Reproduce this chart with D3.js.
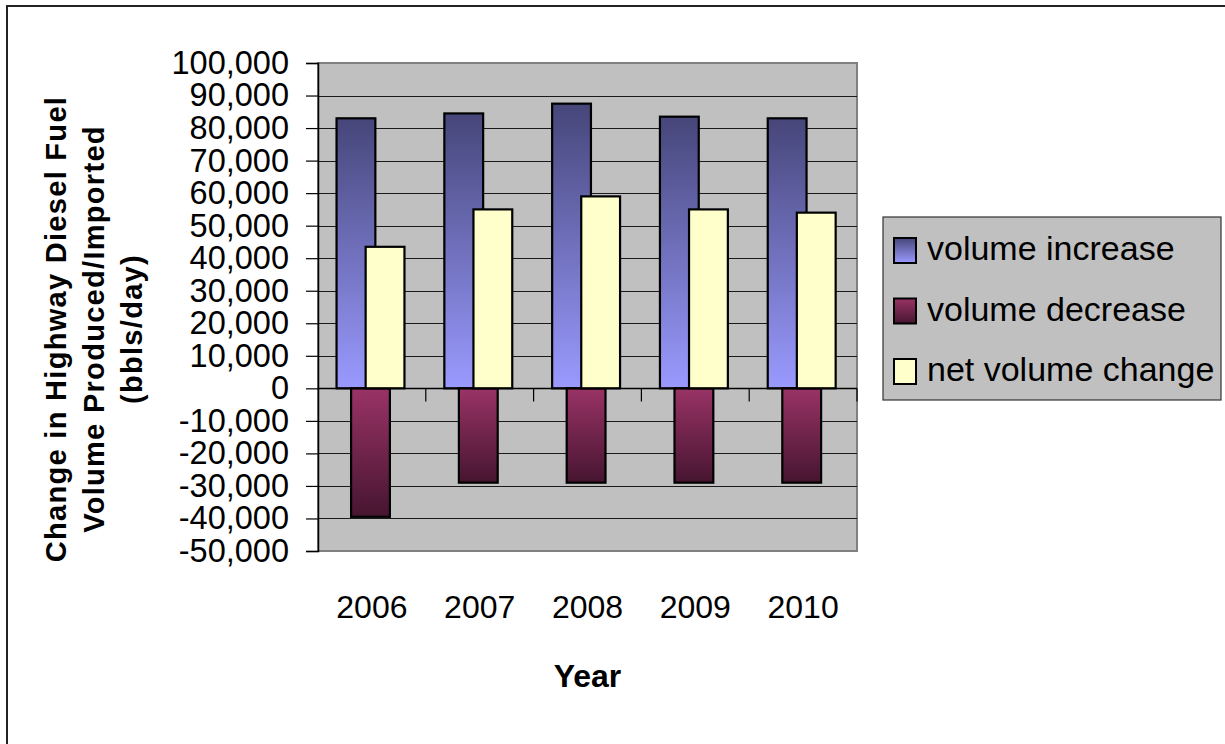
<!DOCTYPE html>
<html>
<head>
<meta charset="utf-8">
<script src="https://cdn.jsdelivr.net/npm/d3@7"></script>
<style>
  html, body { margin: 0; padding: 0; background: #ffffff; }
  svg { display: block; }
  text { font-family: "Liberation Sans", Arial, sans-serif; fill: #000; }
</style>
</head>
<body>
<svg id="chart" width="1225" height="744"></svg>
<script>
// ---- Data ----
const categories = ["2006", "2007", "2008", "2009", "2010"];
const seriesNames = ["volume increase", "volume decrease", "net volume change"];
const volumeIncrease = [83000, 84500, 87500, 83500, 83000];
const volumeDecrease = [-39500, -29000, -29000, -29000, -29000];
const netVolumeChange = [43500, 55000, 59000, 55000, 54000];
const yTickValues = [-50000, -40000, -30000, -20000, -10000, 0, 10000, 20000, 30000, 40000, 50000, 60000, 70000, 80000, 90000, 100000];
const yTitleLines = ["Change in Highway Diesel Fuel", "Volume Produced/Imported", "(bbls/day)"];
const xTitle = "Year";

// ---- Layout ----
const svg = d3.select("#chart");
const plot = { left: 318, right: 857, top: 63, bottom: 551 };

const x = d3.scaleBand().domain(categories).range([plot.left, plot.right]).padding(0);
const y = d3.scaleLinear().domain([-50000, 100000]).range([plot.bottom, plot.top]);

// Gradients
const defs = svg.append("defs");
const gInc = defs.append("linearGradient").attr("id", "gradInc")
  .attr("x1", 0).attr("y1", 0).attr("x2", 0).attr("y2", 1);
gInc.append("stop").attr("offset", "0%").attr("stop-color", "#46467a");
gInc.append("stop").attr("offset", "100%").attr("stop-color", "#9a9aff");
const gDec = defs.append("linearGradient").attr("id", "gradDec")
  .attr("x1", 0).attr("y1", 0).attr("x2", 0).attr("y2", 1);
gDec.append("stop").attr("offset", "0%").attr("stop-color", "#993366");
gDec.append("stop").attr("offset", "100%").attr("stop-color", "#461530");

// Outer frame
svg.append("path")
  .attr("d", "M7,744 L7,6 L1225,6")
  .attr("fill", "none").attr("stroke", "#222").attr("stroke-width", 2);

// Plot background
svg.append("rect")
  .attr("x", plot.left).attr("y", plot.top)
  .attr("width", plot.right - plot.left).attr("height", plot.bottom - plot.top)
  .attr("fill", "#c0c0c0").attr("stroke", "#808080").attr("stroke-width", 2);

// Gridlines
svg.append("g").selectAll("line").data(yTickValues.filter(v => v !== 100000 && v !== -50000)).join("line")
  .attr("x1", plot.left).attr("x2", plot.right)
  .attr("y1", d => Math.round(y(d)) + 0.5).attr("y2", d => Math.round(y(d)) + 0.5)
  .attr("stroke", "#1a1a1a").attr("stroke-width", 1.2);

// Bars
const seriesData = [
  { name: seriesNames[0], values: volumeIncrease, fill: "url(#gradInc)", off: 0 },
  { name: seriesNames[1], values: volumeDecrease, fill: "url(#gradDec)", off: 1 },
  { name: seriesNames[2], values: netVolumeChange, fill: "#ffffcc", off: 2 }
];
const bw = x.bandwidth();
const barW = bw * 0.36;
const step = bw * 0.135;
const startOff = bw * 0.172;

seriesData.forEach(s => {
  svg.append("g").selectAll("rect").data(categories).join("rect")
    .attr("x", c => x(c) + startOff + s.off * step)
    .attr("y", (c, i) => Math.min(y(s.values[i]), y(0)))
    .attr("width", barW)
    .attr("height", (c, i) => Math.abs(y(s.values[i]) - y(0)))
    .attr("fill", s.fill)
    .attr("stroke", "#000").attr("stroke-width", 2.2);
});

// Y axis
const fmt = d3.format(",");
const yAxis = d3.axisLeft(y).tickValues(yTickValues).tickSize(12).tickPadding(17)
  .tickFormat(d => fmt(d).replace("\u2212", "-"));
const yg = svg.append("g").attr("transform", `translate(${plot.left},0)`).call(yAxis);
yg.select(".domain").attr("stroke", "#000").attr("stroke-width", 1.5);
yg.selectAll(".tick line").attr("stroke", "#000").attr("stroke-width", 1.2);
yg.selectAll(".tick text")
  .attr("font-family", "'Liberation Sans', Arial, sans-serif")
  .attr("font-size", 32.5).attr("fill", "#000");

// Zero line (category axis) with ticks between categories
const boundaries = categories.map(c => x(c) + bw);
const zeroY = Math.round(y(0)) + 0.5;
svg.append("line")
  .attr("x1", plot.left).attr("x2", plot.right)
  .attr("y1", zeroY).attr("y2", zeroY)
  .attr("stroke", "#000").attr("stroke-width", 1.4);
svg.append("g").selectAll("line").data(boundaries).join("line")
  .attr("x1", d => d).attr("x2", d => d)
  .attr("y1", zeroY).attr("y2", zeroY + 13)
  .attr("stroke", "#000").attr("stroke-width", 1.2);

// Category labels
svg.append("g").selectAll("text").data(categories).join("text")
  .attr("x", c => x(c) + bw / 2)
  .attr("y", 618)
  .attr("text-anchor", "middle")
  .attr("font-size", 32)
  .text(c => c);

// X title
svg.append("text")
  .attr("x", (plot.left + plot.right) / 2)
  .attr("y", 687)
  .attr("text-anchor", "middle")
  .attr("font-size", 32).attr("font-weight", "bold")
  .text(xTitle);

// Y title
const titleX = [66, 104, 142];
yTitleLines.forEach((t, i) => {
  svg.append("text")
    .attr("transform", `translate(${titleX[i]},329) rotate(-90)`)
    .attr("text-anchor", "middle")
    .attr("font-size", 29).attr("font-weight", "bold")
    .attr("letter-spacing", "1.3px")
    .text(t);
});

// Legend
const lg = svg.append("g");
lg.append("rect")
  .attr("x", 883).attr("y", 217).attr("width", 338).attr("height", 183)
  .attr("fill", "#c0c0c0").attr("stroke", "#333").attr("stroke-width", 1.2);
const legendFills = ["url(#gradInc)", "url(#gradDec)", "#ffffcc"];
seriesNames.forEach((n, i) => {
  const cy = 250 + i * 60.5;
  lg.append("rect")
    .attr("x", 894).attr("y", cy - 12).attr("width", 22).attr("height", 25)
    .attr("fill", legendFills[i]).attr("stroke", "#000").attr("stroke-width", 2);
  lg.append("text")
    .attr("x", 927).attr("y", cy + 10)
    .attr("font-size", 34)
    .text(n);
});
</script>
</body>
</html>
